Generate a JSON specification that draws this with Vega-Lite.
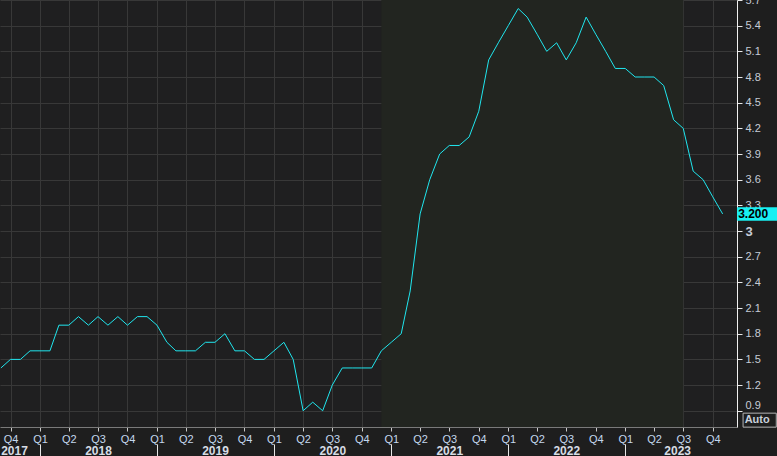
{
  "$schema": "https://vega.github.io/schema/vega-lite/v6.json",
  "width": 737,
  "height": 427,
  "autosize": {"type": "none"},
  "padding": {"left": 0, "top": 0, "right": 40, "bottom": 29},
  "background": "#1e1e1e",
  "config": {
    "view": {"stroke": null, "fill": "#1f1f20"},
    "font": "Liberation Sans",
    "axis": {"labelFont": "Liberation Sans"}
  },
  "datasets": {
    "series": [
      {"date": "2017-09-01T00:00:00", "value": 1.4},
      {"date": "2017-10-01T00:00:00", "value": 1.5},
      {"date": "2017-11-01T00:00:00", "value": 1.5},
      {"date": "2017-12-01T00:00:00", "value": 1.6},
      {"date": "2018-01-01T00:00:00", "value": 1.6},
      {"date": "2018-02-01T00:00:00", "value": 1.6},
      {"date": "2018-03-01T00:00:00", "value": 1.9},
      {"date": "2018-04-01T00:00:00", "value": 1.9},
      {"date": "2018-05-01T00:00:00", "value": 2.0},
      {"date": "2018-06-01T00:00:00", "value": 1.9},
      {"date": "2018-07-01T00:00:00", "value": 2.0},
      {"date": "2018-08-01T00:00:00", "value": 1.9},
      {"date": "2018-09-01T00:00:00", "value": 2.0},
      {"date": "2018-10-01T00:00:00", "value": 1.9},
      {"date": "2018-11-01T00:00:00", "value": 2.0},
      {"date": "2018-12-01T00:00:00", "value": 2.0},
      {"date": "2019-01-01T00:00:00", "value": 1.9},
      {"date": "2019-02-01T00:00:00", "value": 1.7},
      {"date": "2019-03-01T00:00:00", "value": 1.6},
      {"date": "2019-04-01T00:00:00", "value": 1.6},
      {"date": "2019-05-01T00:00:00", "value": 1.6},
      {"date": "2019-06-01T00:00:00", "value": 1.7},
      {"date": "2019-07-01T00:00:00", "value": 1.7},
      {"date": "2019-08-01T00:00:00", "value": 1.8},
      {"date": "2019-09-01T00:00:00", "value": 1.6},
      {"date": "2019-10-01T00:00:00", "value": 1.6},
      {"date": "2019-11-01T00:00:00", "value": 1.5},
      {"date": "2019-12-01T00:00:00", "value": 1.5},
      {"date": "2020-01-01T00:00:00", "value": 1.6},
      {"date": "2020-02-01T00:00:00", "value": 1.7},
      {"date": "2020-03-01T00:00:00", "value": 1.5},
      {"date": "2020-04-01T00:00:00", "value": 0.9},
      {"date": "2020-05-01T00:00:00", "value": 1.0},
      {"date": "2020-06-01T00:00:00", "value": 0.9},
      {"date": "2020-07-01T00:00:00", "value": 1.2},
      {"date": "2020-08-01T00:00:00", "value": 1.4},
      {"date": "2020-09-01T00:00:00", "value": 1.4},
      {"date": "2020-10-01T00:00:00", "value": 1.4},
      {"date": "2020-11-01T00:00:00", "value": 1.4},
      {"date": "2020-12-01T00:00:00", "value": 1.6},
      {"date": "2021-01-01T00:00:00", "value": 1.7},
      {"date": "2021-02-01T00:00:00", "value": 1.8},
      {"date": "2021-03-01T00:00:00", "value": 2.3},
      {"date": "2021-04-01T00:00:00", "value": 3.2},
      {"date": "2021-05-01T00:00:00", "value": 3.6},
      {"date": "2021-06-01T00:00:00", "value": 3.9},
      {"date": "2021-07-01T00:00:00", "value": 4.0},
      {"date": "2021-08-01T00:00:00", "value": 4.0},
      {"date": "2021-09-01T00:00:00", "value": 4.1},
      {"date": "2021-10-01T00:00:00", "value": 4.4},
      {"date": "2021-11-01T00:00:00", "value": 5.0},
      {"date": "2021-12-01T00:00:00", "value": 5.2},
      {"date": "2022-01-01T00:00:00", "value": 5.4},
      {"date": "2022-02-01T00:00:00", "value": 5.6},
      {"date": "2022-03-01T00:00:00", "value": 5.5},
      {"date": "2022-04-01T00:00:00", "value": 5.3},
      {"date": "2022-05-01T00:00:00", "value": 5.1},
      {"date": "2022-06-01T00:00:00", "value": 5.2},
      {"date": "2022-07-01T00:00:00", "value": 5.0},
      {"date": "2022-08-01T00:00:00", "value": 5.2},
      {"date": "2022-09-01T00:00:00", "value": 5.5},
      {"date": "2022-10-01T00:00:00", "value": 5.3},
      {"date": "2022-11-01T00:00:00", "value": 5.1},
      {"date": "2022-12-01T00:00:00", "value": 4.9},
      {"date": "2023-01-01T00:00:00", "value": 4.9},
      {"date": "2023-02-01T00:00:00", "value": 4.8},
      {"date": "2023-03-01T00:00:00", "value": 4.8},
      {"date": "2023-04-01T00:00:00", "value": 4.8},
      {"date": "2023-05-01T00:00:00", "value": 4.7},
      {"date": "2023-06-01T00:00:00", "value": 4.3},
      {"date": "2023-07-01T00:00:00", "value": 4.2},
      {"date": "2023-08-01T00:00:00", "value": 3.7},
      {"date": "2023-09-01T00:00:00", "value": 3.6},
      {"date": "2023-10-01T00:00:00", "value": 3.4},
      {"date": "2023-11-01T00:00:00", "value": 3.2}
    ],
    "band": [
      {"start": "2020-12-01T00:00:00", "end": "2023-07-01T00:00:00"}
    ],
    "auto": [
      {"label": "Auto", "date": "2023-11-01T00:00:00", "level": 0.79}
    ]
  },
  "resolve": {"axis": {"x": "independent"}},
  "layer": [
    {
      "data": {"name": "band"},
      "mark": {"type": "rect", "color": "#222520"},
      "encoding": {
        "x": {"field": "start", "type": "temporal", "axis": null,
              "scale": {"domain": [{"year": 2017, "month": 8, "date": 29, "hours": 5}, {"year": 2023, "month": 12, "date": 15, "hours": 17}]}},
        "x2": {"field": "end"}
      }
    },
    {
      "data": {"name": "series"},
      "mark": {"type": "line", "color": "#20e6ee", "strokeWidth": 1, "clip": true},
      "encoding": {
        "x": {
          "field": "date", "type": "temporal",
          "scale": {"domain": [{"year": 2017, "month": 8, "date": 29, "hours": 5}, {"year": 2023, "month": 12, "date": 15, "hours": 17}]},
          "axis": {
            "title": null,
            "orient": "bottom",
            "tickCount": 100,
            "values": [
              {"year": 2017, "month": 10, "date": 1},
              {"year": 2018, "month": 1, "date": 1}, {"year": 2018, "month": 4, "date": 1}, {"year": 2018, "month": 7, "date": 1}, {"year": 2018, "month": 10, "date": 1},
              {"year": 2019, "month": 1, "date": 1}, {"year": 2019, "month": 4, "date": 1}, {"year": 2019, "month": 7, "date": 1}, {"year": 2019, "month": 10, "date": 1},
              {"year": 2020, "month": 1, "date": 1}, {"year": 2020, "month": 4, "date": 1}, {"year": 2020, "month": 7, "date": 1}, {"year": 2020, "month": 10, "date": 1},
              {"year": 2021, "month": 1, "date": 1}, {"year": 2021, "month": 4, "date": 1}, {"year": 2021, "month": 7, "date": 1}, {"year": 2021, "month": 10, "date": 1},
              {"year": 2022, "month": 1, "date": 1}, {"year": 2022, "month": 4, "date": 1}, {"year": 2022, "month": 7, "date": 1}, {"year": 2022, "month": 10, "date": 1},
              {"year": 2023, "month": 1, "date": 1}, {"year": 2023, "month": 4, "date": 1}, {"year": 2023, "month": 7, "date": 1}, {"year": 2023, "month": 10, "date": 1}
            ],
            "labelExpr": "'Q' + (floor(month(datum.value) / 3) + 1)",
            "labelFlush": false,
            "labelOverlap": false,
            "labelColor": "#c4d8ee",
            "labelFontSize": 11,
            "labelPadding": 2,
            "ticks": true,
            "tickSize": 4,
            "tickColor": "#c8c8c8",
            "domain": true,
            "domainColor": "#7a7a7a",
            "grid": true,
            "gridColor": "#383838",
            "gridWidth": 1
          }
        },
        "y": {
          "field": "value", "type": "quantitative",
          "scale": {"domain": [0.71, 5.7], "nice": false, "zero": false},
          "axis": {
            "title": null,
            "orient": "right",
            "tickCount": 100,
            "values": [0.9, 1.2, 1.5, 1.8, 2.1, 2.4, 2.7, 3, 3.3, 3.6, 3.9, 4.2, 4.5, 4.8, 5.1, 5.4, 5.7],
            "format": "~g",
            "labelColor": "#c6ccd6",
            "labelFontSize": {"condition": {"test": "datum.value == 3", "value": 13}, "value": 11},
            "labelFontWeight": {"condition": {"test": "datum.value == 3", "value": "bold"}, "value": "normal"},
            "labelOffset": {"condition": {"test": "datum.value == 0.9", "value": -5}, "value": 0},
            "labelPadding": 3,
            "labelOverlap": false,
            "labelFlush": false,
            "labelBound": false,
            "ticks": true,
            "tickSize": 5,
            "tickColor": "#e8e8e8",
            "domain": true,
            "domainColor": "#f0f0f0",
            "grid": true,
            "gridColor": "#383838",
            "gridWidth": 1
          }
        }
      }
    },
    {
      "data": {"name": "series"},
      "transform": [{"filter": "year(datum.date) == 2023 && month(datum.date) == 10"}],
      "mark": {"type": "point", "filled": true, "shape": "M3.6,-1.7H13.6V1.7H3.6Z", "size": 64, "color": "#18f0f2", "opacity": 1, "strokeWidth": 0},
      "encoding": {
        "x": {
          "field": "date", "type": "temporal",
          "scale": {"domain": [{"year": 2017, "month": 8, "date": 29, "hours": 5}, {"year": 2023, "month": 12, "date": 15, "hours": 17}]},
          "axis": {
            "title": null,
            "orient": "bottom",
            "tickCount": 100,
            "values": [
              {"year": 2017, "month": 10, "date": 12},
              {"year": 2018, "month": 7, "date": 1},
              {"year": 2019, "month": 7, "date": 1},
              {"year": 2020, "month": 7, "date": 1},
              {"year": 2021, "month": 7, "date": 1},
              {"year": 2022, "month": 7, "date": 1},
              {"year": 2023, "month": 6, "date": 12}
            ],
            "labelExpr": "timeFormat(datum.value, '%Y')",
            "labelFlush": false,
            "labelOverlap": false,
            "labelColor": "#d6dce4",
            "labelFontSize": 12,
            "labelFontWeight": "bold",
            "labelPadding": 18,
            "ticks": false,
            "tickSize": 0,
            "domain": false,
            "grid": false
          }
        },
        "y": {"field": "value", "type": "quantitative", "scale": {"domain": [0.71, 5.7], "nice": false, "zero": false}, "axis": {"title": null}}
      }
    },
    {
      "data": {"name": "series"},
      "transform": [{"filter": "year(datum.date) == 2023 && month(datum.date) == 10"}],
      "mark": {"type": "text", "align": "left", "baseline": "middle", "dx": 15.5, "dy": 0.5, "fontWeight": "bold", "fontSize": 12, "color": "#000000"},
      "encoding": {
        "x": {
          "field": "date", "type": "temporal",
          "scale": {"domain": [{"year": 2017, "month": 8, "date": 29, "hours": 5}, {"year": 2023, "month": 12, "date": 15, "hours": 17}]},
          "axis": {
            "title": null,
            "orient": "bottom",
            "tickCount": 100,
            "values": [
              {"year": 2018, "month": 1, "date": 1},
              {"year": 2019, "month": 1, "date": 1},
              {"year": 2020, "month": 1, "date": 1},
              {"year": 2021, "month": 1, "date": 1},
              {"year": 2022, "month": 1, "date": 1},
              {"year": 2023, "month": 1, "date": 1}
            ],
            "labels": false,
            "ticks": true,
            "tickSize": 12,
            "tickColor": "#e6e6e6",
            "offset": 17,
            "domain": false,
            "grid": false
          }
        },
        "y": {"field": "value", "type": "quantitative", "scale": {"domain": [0.71, 5.7], "nice": false, "zero": false}, "axis": {"title": null}},
        "text": {"field": "value", "type": "quantitative", "format": ".3f"}
      }
    },
    {
      "data": {"name": "auto"},
      "mark": {"type": "point", "filled": false, "shape": "M5.1,-1.75H13.4V1.75H5.1Z", "size": 64, "stroke": "#b4b4b4", "strokeWidth": 1, "opacity": 1},
      "encoding": {
        "x": {"field": "date", "type": "temporal", "axis": null,
              "scale": {"domain": [{"year": 2017, "month": 8, "date": 29, "hours": 5}, {"year": 2023, "month": 12, "date": 15, "hours": 17}]}},
        "y": {"field": "level", "type": "quantitative", "scale": {"domain": [0.71, 5.7], "nice": false, "zero": false}, "axis": {"title": null}}
      }
    },
    {
      "data": {"name": "auto"},
      "mark": {"type": "text", "align": "left", "baseline": "middle", "dx": 22, "fontWeight": "bold", "fontSize": 11, "color": "#c8d0da"},
      "encoding": {
        "x": {"field": "date", "type": "temporal", "axis": null,
              "scale": {"domain": [{"year": 2017, "month": 8, "date": 29, "hours": 5}, {"year": 2023, "month": 12, "date": 15, "hours": 17}]}},
        "y": {"field": "level", "type": "quantitative", "scale": {"domain": [0.71, 5.7], "nice": false, "zero": false}, "axis": {"title": null}},
        "text": {"field": "label"}
      }
    }
  ]
}
